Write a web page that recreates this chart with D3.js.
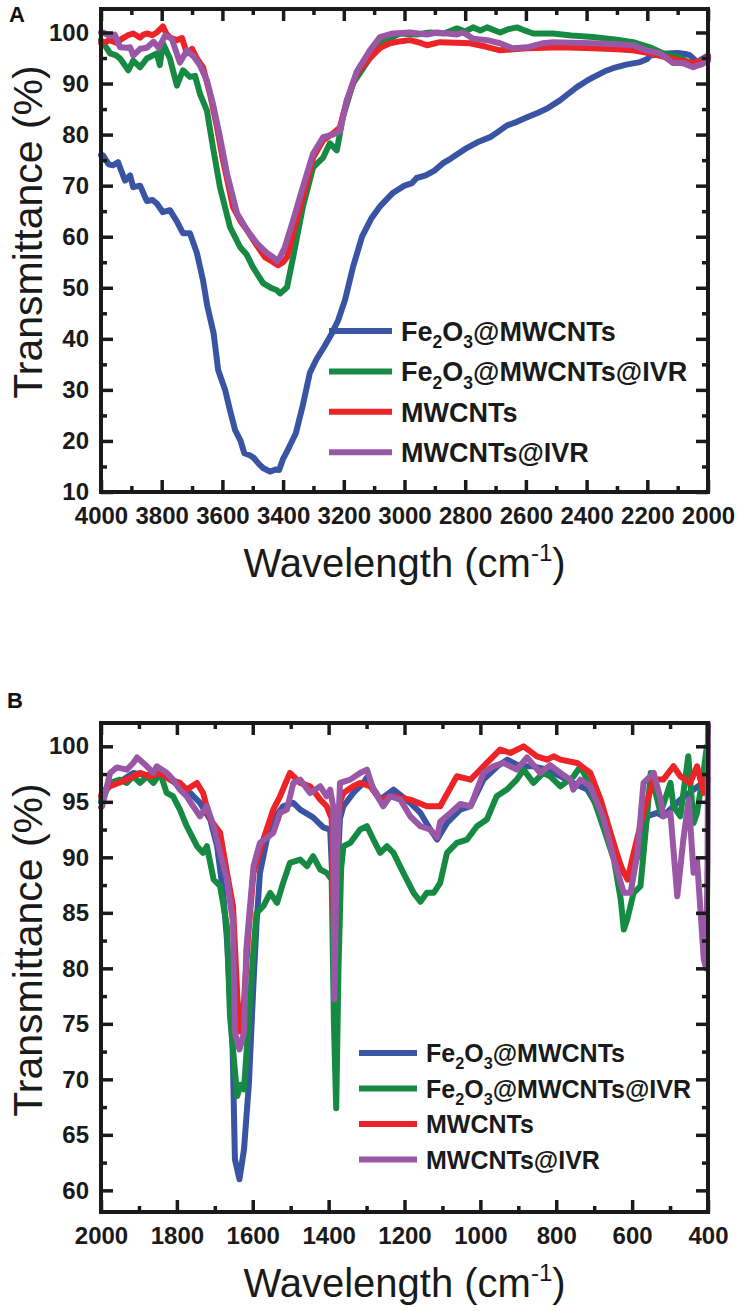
<!DOCTYPE html>
<html><head><meta charset="utf-8">
<script src="https://cdn.jsdelivr.net/npm/d3@7"></script>
<style>
html,body{margin:0;padding:0;background:#fff;}
svg{display:block;font-family:"Liberation Sans",Arial,Helvetica,sans-serif;}
</style></head>
<body><svg id="chart" width="739" height="1311"></svg>
<script>
// ---------- data ----------
const seriesNames = ["Fe2O3@MWCNTs", "Fe2O3@MWCNTs@IVR", "MWCNTs", "MWCNTs@IVR"];
const seriesColors = ["#3a54a4", "#168a43", "#ec2327", "#9a57a6"];

// Panel A  [wavenumber cm-1, transmittance %]
const aFe2O3 = [[4000,76],[3993,75.9],[3975,74.2],[3960,74],[3944,74.6],[3921,71],[3904,72],[3894,69.7],[3871,70],[3849,67],[3830,67.2],[3816,66.5],[3796,64.8],[3773,65.2],[3750,63],[3730,60.7],[3707,60.7],[3684,56.8],[3664,51.5],[3650,46.5],[3629,41.1],[3614,33.9],[3591,30],[3575,26],[3558,22.1],[3540,20],[3528,17.6],[3510,17.2],[3497,16.7],[3480,15.5],[3466,14.7],[3443,14],[3425,14.4],[3413,14.3],[3400,16.5],[3390,17.6],[3358,21.5],[3335,27],[3312,33.3],[3290,36],[3265,38.4],[3240,41],[3219,43.6],[3196,47.6],[3170,54],[3140,60],[3110,63.5],[3080,66],[3040,68.5],[3000,70],[2975,70.5],[2960,71.5],[2930,72],[2900,73],[2873,74.4],[2850,75.2],[2800,77.2],[2760,78.5],[2718,79.5],[2700,80.2],[2662,81.8],[2630,82.5],[2596,83.4],[2560,84.3],[2530,85.1],[2488,86.7],[2460,88],[2432,89.3],[2400,90.5],[2379,91.2],[2340,92.4],[2313,93],[2270,93.7],[2224,94.2],[2200,94.8],[2191,95.5],[2160,95.7],[2135,95.9],[2100,96],[2075,95.8],[2059,95.5],[2036,94.2],[2020,94.8],[2000,95.5]];
const aFe2O3IVR = [[4000,98.5],[3993,98],[3970,95.9],[3950,95.5],[3937,94.9],[3910,92.6],[3894,94.5],[3871,93.2],[3849,94.9],[3816,95.9],[3806,93.6],[3796,97.9],[3773,94.9],[3750,89.6],[3730,92.6],[3707,91.3],[3690,91.5],[3674,88],[3651,84.7],[3631,77.5],[3608,69.7],[3575,61.9],[3542,58],[3520,56.5],[3499,54],[3466,50.9],[3437,49.9],[3420,49.5],[3410,48.9],[3387,50.1],[3367,56],[3335,65.8],[3301,73.6],[3268,75.5],[3246,78.3],[3223,76.9],[3203,83.4],[3170,90],[3114,95],[3081,97.9],[3015,99.8],[2960,99.6],[2916,100],[2870,99.8],[2827,100.8],[2800,100.2],[2774,101],[2750,100.4],[2728,101],[2685,100],[2660,100.6],[2629,101],[2600,100.3],[2576,99.8],[2511,99.8],[2450,99.4],[2379,99.1],[2300,98.6],[2247,98.1],[2191,97.1],[2147,95.9],[2092,95.1],[2049,93.6],[2020,94.2],[2000,94.9]];
const aMWCNTs = [[4000,98],[3993,98],[3970,98.5],[3950,98],[3930,98.8],[3910,99.5],[3894,99.8],[3871,99],[3860,99.6],[3849,99.8],[3830,99.5],[3816,100],[3796,101.2],[3785,99.8],[3773,99],[3750,98.5],[3733,98.9],[3717,95.9],[3700,96.8],[3684,94.9],[3664,93.2],[3641,88],[3618,81.5],[3598,75],[3580,70],[3565,65.8],[3540,63],[3519,61.3],[3500,59.5],[3476,57.4],[3460,56],[3443,55.4],[3417,54.4],[3400,55],[3387,56],[3367,60.7],[3335,67.7],[3301,75.5],[3268,78.9],[3236,80.2],[3213,81.4],[3190,86.7],[3157,92],[3114,95],[3080,97],[3048,97.9],[3010,98.3],[2982,98.5],[2950,98],[2926,97.5],[2883,98.1],[2830,98],[2784,97.9],[2730,97.2],[2685,96.5],[2640,96.7],[2596,96.9],[2540,97],[2488,97.1],[2430,97],[2379,96.9],[2300,96.7],[2247,96.5],[2191,95.9],[2135,95.1],[2092,94.5],[2049,94],[2020,94.5],[2000,95.1]];
const aMWCNTsIVR = [[4000,100],[3993,100],[3970,99.3],[3955,99.6],[3937,97.1],[3915,97],[3904,97.1],[3894,95.5],[3871,96.8],[3849,97],[3827,98.2],[3810,97],[3789,99.4],[3767,98.8],[3740,94.1],[3717,96.5],[3695,95.3],[3674,93.6],[3651,90.6],[3631,86],[3608,79.5],[3585,72.4],[3552,64.6],[3519,61.3],[3486,58.7],[3453,56.8],[3433,56],[3420,55.2],[3410,56],[3394,58],[3367,63.2],[3335,69.7],[3301,76.3],[3268,79.5],[3236,80],[3213,80.7],[3190,86.7],[3157,92.4],[3114,96.5],[3081,99.1],[3038,99.8],[2982,100],[2926,99.6],[2893,100],[2827,99.6],[2807,100],[2774,98.8],[2728,98.5],[2685,97.9],[2643,96.9],[2596,97.1],[2543,97.9],[2511,98.1],[2450,98],[2379,97.9],[2300,97.7],[2247,97.5],[2202,96.5],[2158,95.9],[2115,94],[2082,94],[2049,93.2],[2020,93.8],[2000,94.5]];

// Panel B
const bFe2O3 = [[2000,95],[1997,95.5],[1976,96.7],[1950,96.8],[1915,97.6],[1879,97.4],[1844,97.6],[1818,97],[1792,96.4],[1765,95.8],[1739,94.9],[1712,93.4],[1694,91],[1678,86.8],[1668,82.6],[1653,72.7],[1647,62.8],[1635,61],[1623,63.7],[1610,69.7],[1598,78.7],[1590,84],[1581,88.6],[1563,91.6],[1546,93.4],[1520,94.6],[1493,94.9],[1475,94.3],[1441,93.6],[1414,92.7],[1396,92.5],[1390,88],[1384,80],[1378,88],[1370,93.5],[1361,94.6],[1335,95.8],[1308,96.7],[1299,97.2],[1282,96.2],[1264,95.2],[1229,96.1],[1185,94.9],[1158,94],[1132,92.5],[1114,91.6],[1088,93.1],[1053,94.3],[1026,94.6],[992,97],[955,98.2],[929,98.8],[895,98.2],[860,98.2],[824,97.9],[789,97.3],[755,96.7],[718,96.1],[692,94.6],[665,92.2],[639,90.1],[623,88.6],[604,88],[586,90.1],[560,93.7],[534,94],[518,93.7],[491,94.6],[473,95.2],[438,96.1],[403,97],[400,97]];
const bFe2O3IVR = [[2000,95],[1997,95.2],[1976,96.7],[1950,97],[1932,96.7],[1915,97.3],[1897,96.7],[1879,97.3],[1862,96.7],[1844,97.6],[1827,95.8],[1810,95.5],[1792,94.3],[1774,92.8],[1747,91],[1731,90.4],[1721,91],[1703,88],[1686,87.4],[1668,83.8],[1660,75.7],[1641,68.5],[1632,69.5],[1623,69.1],[1610,75.7],[1598,81.7],[1590,85],[1572,85.6],[1554,86.8],[1536,85.9],[1520,87.7],[1502,89.5],[1475,89.8],[1457,89.2],[1441,90.1],[1422,88.9],[1405,88.6],[1392,88],[1386,75],[1380,67.4],[1374,80],[1367,89],[1361,91],[1343,91.3],[1317,92.5],[1299,92.8],[1282,91.6],[1264,90.4],[1246,91],[1229,90.4],[1203,88.6],[1176,86.8],[1158,86],[1141,86.8],[1123,86.8],[1106,87.7],[1088,90.4],[1062,91.3],[1035,91.6],[1009,92.8],[983,93.4],[957,95.5],[930,96.1],[904,97],[886,97.9],[860,96.7],[834,97.6],[816,97.3],[789,96.4],[754,97.3],[736,98.2],[719,97],[701,95.2],[674,92.5],[648,89.8],[630,86.2],[622,83.5],[613,84.4],[596,86.8],[578,87.4],[560,94],[551,97.6],[525,94],[499,96.7],[491,94.6],[473,93.7],[452,99.1],[438,93.1],[429,94],[411,97.9],[403,100],[400,100]];
const bMWCNTs = [[2000,95.5],[1997,95.9],[1976,96.4],[1932,97],[1897,97.6],[1871,97.3],[1844,97.6],[1818,97],[1792,96.7],[1774,96.1],[1747,96.7],[1731,95.8],[1712,93.4],[1686,92.2],[1668,88.6],[1652,85.6],[1640,77],[1633,74.3],[1625,76],[1612,83],[1598,88.6],[1572,91.6],[1546,94.3],[1528,95.5],[1502,97.6],[1475,96.7],[1449,96.4],[1422,95.2],[1405,94.6],[1392,93.5],[1385,82],[1378,91],[1370,95],[1361,95.8],[1335,96.4],[1317,96.7],[1291,96.4],[1264,95.2],[1229,95.5],[1185,95.2],[1141,94.6],[1106,94.6],[1062,97.3],[1026,97],[983,98.5],[948,99.7],[921,99.4],[886,100],[851,99.1],[824,98.8],[807,99.1],[789,98.8],[745,98.5],[710,97.6],[683,95.2],[657,92.2],[630,89.2],[612,88],[596,90.4],[570,94],[543,97],[518,97],[491,98.2],[473,97.3],[447,96.7],[429,98.2],[411,95.8],[403,97],[400,97]];
const bMWCNTsIVR = [[2000,94.5],[1997,94.6],[1976,97.6],[1958,98.1],[1932,97.9],[1915,98.5],[1905,99],[1879,98.2],[1862,97.6],[1853,98.2],[1826,97.6],[1810,97],[1792,96.1],[1774,95.5],[1757,94.6],[1739,93.7],[1721,94.6],[1703,92.8],[1686,90.4],[1668,88],[1652,84.1],[1647,74.2],[1635,72.7],[1623,74.2],[1617,81.7],[1598,89.2],[1581,91.3],[1546,92.2],[1528,94],[1510,94.3],[1493,96.7],[1475,97],[1449,95.8],[1422,96.4],[1405,95.5],[1396,96.1],[1388,94.6],[1385,77.2],[1378,90],[1370,96.7],[1343,97],[1317,97.6],[1299,97.9],[1282,96.1],[1256,94.6],[1238,95.5],[1211,95.2],[1185,93.7],[1158,92.8],[1132,92.5],[1114,91.8],[1106,93.2],[1079,94],[1053,94.8],[1026,94.6],[992,97.6],[966,98.2],[939,98.5],[904,97.9],[877,99],[842,97.6],[816,98.3],[789,97.6],[763,97],[755,96.1],[736,97],[710,96.4],[692,94.9],[675,93.4],[648,89.8],[622,86.8],[604,86.8],[586,90.4],[570,96.7],[543,97.6],[525,95.2],[518,93.7],[499,94],[481,86.5],[465,91.6],[451,95.2],[438,88.6],[429,89.8],[411,80.8],[405,80],[401,90],[400,102]];

// ticks
const aXTicks = [4000,3800,3600,3400,3200,3000,2800,2600,2400,2200,2000];
const aXMinor = [3900,3700,3500,3300,3100,2900,2700,2500,2300,2100];
const aYTicks = [10,20,30,40,50,60,70,80,90,100];
const aYMinor = [15,25,35,45,55,65,75,85,95];
const bXTicks = [2000,1800,1600,1400,1200,1000,800,600,400];
const bXMinor = [1900,1700,1500,1300,1100,900,700,500];
const bYTicks = [60,65,70,75,80,85,90,95,100];
const bYMinor = [62.5,67.5,72.5,77.5,82.5,87.5,92.5,97.5];

// ---------- drawing ----------
const svg = d3.select("#chart");
const L = 101, R = 708;
const ink = "#1a1a1a";

function drawPanel(cfg){
  const g = svg.append("g");
  const x = d3.scaleLinear().domain(cfg.xDomain).range([L, R]);
  const y = d3.scaleLinear().domain(cfg.yDomain).range([cfg.bottom, cfg.top]);

  const line = d3.line().x(d => x(d[0])).y(d => y(d[1]));
  cfg.series.forEach((s, i) => {
    g.append("path").datum(s)
      .attr("d", line)
      .attr("fill", "none")
      .attr("stroke", seriesColors[i])
      .attr("stroke-width", 6)
      .attr("stroke-linejoin", "round")
      .attr("stroke-linecap", "round");
  });

  const fontTick = "bold 24px 'Liberation Sans', Arial, sans-serif";
  function axis(gen, scale, vals, size, pos, labels, pad){
    const a = gen(scale).tickValues(vals).tickSize(size).tickPadding(pad || 0)
      .tickFormat(labels ? d3.format("d") : "");
    const ag = g.append("g").attr("transform", pos).call(a);
    ag.select(".domain").remove();
    ag.selectAll("line").attr("stroke", ink).attr("stroke-width", 3.5);
    ag.selectAll("text").style("font", fontTick).attr("fill", ink);
    return ag;
  }
  // major/minor ticks on all four sides, pointing inward
  axis(d3.axisBottom, x, cfg.xTicks, -12, `translate(0,${cfg.bottom})`, true, 15);
  axis(d3.axisBottom, x, cfg.xMinor, -6, `translate(0,${cfg.bottom})`, false);
  axis(d3.axisTop, x, cfg.xTicks, -12, `translate(0,${cfg.top})`, false);
  axis(d3.axisTop, x, cfg.xMinor, -6, `translate(0,${cfg.top})`, false);
  axis(d3.axisLeft, y, cfg.yTicks, -12, `translate(${L},0)`, true, 12);
  axis(d3.axisLeft, y, cfg.yMinor, -6, `translate(${L},0)`, false);
  axis(d3.axisRight, y, cfg.yTicks, -12, `translate(${R},0)`, false);
  axis(d3.axisRight, y, cfg.yMinor, -6, `translate(${R},0)`, false);

  g.append("rect").attr("x", L).attr("y", cfg.top).attr("width", R - L).attr("height", cfg.bottom - cfg.top)
    .attr("fill", "none").attr("stroke", ink).attr("stroke-width", 4);

  // x title
  const xt = g.append("text").attr("x", (L + R) / 2).attr("y", cfg.bottom + 85)
    .attr("text-anchor", "middle").style("font-size", "40px").attr("fill", ink);
  xt.append("tspan").text("Wavelength (cm");
  xt.append("tspan").attr("dy", -16).style("font-size", "24px").text("-1");
  xt.append("tspan").attr("dy", 16).text(")");

  // y title
  g.append("text").attr("transform", `translate(42,${cfg.yTitleY}) rotate(-90)`)
    .attr("text-anchor", "middle").style("font-size", "41px").attr("fill", ink)
    .text("Transmittance (%)");

  // panel letter
  g.append("text").attr("x", cfg.letterX).attr("y", cfg.letterY)
    .style("font", "bold 22px 'Liberation Sans', Arial, sans-serif").attr("fill", "#111").text(cfg.letter);

  // legend
  const lg = g.append("g");
  seriesNames.forEach((name, i) => {
    const yy = cfg.leg.y0 + i * cfg.leg.dy;
    lg.append("line").attr("x1", cfg.leg.x1).attr("x2", cfg.leg.x2).attr("y1", yy).attr("y2", yy)
      .attr("stroke", seriesColors[i]).attr("stroke-width", 6);
    const t = lg.append("text").attr("x", cfg.leg.tx).attr("y", yy + cfg.leg.fs * 0.36)
      .style("font", `bold ${cfg.leg.fs}px 'Liberation Sans', Arial, sans-serif`).attr("fill", ink);
    const m = name.match(/^Fe2O3(.*)$/);
    if(m){
      const sub = cfg.leg.fs * 0.65, sh = cfg.leg.fs * 0.28;
      t.append("tspan").text("Fe");
      t.append("tspan").attr("dy", sh).style("font-size", sub + "px").text("2");
      t.append("tspan").attr("dy", -sh).text("O");
      t.append("tspan").attr("dy", sh).style("font-size", sub + "px").text("3");
      t.append("tspan").attr("dy", -sh).text(m[1]);
    } else {
      t.text(name);
    }
  });
}

drawPanel({
  letter: "A", letterX: 9, letterY: 22,
  xDomain: [4000, 2000], yDomain: [10, 104.6], top: 9, bottom: 492,
  xTicks: aXTicks, xMinor: aXMinor, yTicks: aYTicks, yMinor: aYMinor,
  series: [aFe2O3, aFe2O3IVR, aMWCNTs, aMWCNTsIVR],
  yTitleY: 232,
  leg: {x1: 329, x2: 392, tx: 401, y0: 331, dy: 40.4, fs: 27}
});

drawPanel({
  letter: "B", letterX: 7, letterY: 708,
  xDomain: [2000, 400], yDomain: [58.05, 102.1], top: 723, bottom: 1212,
  xTicks: bXTicks, xMinor: bXMinor, yTicks: bYTicks, yMinor: bYMinor,
  series: [bFe2O3, bFe2O3IVR, bMWCNTs, bMWCNTsIVR],
  yTitleY: 950,
  leg: {x1: 359, x2: 417, tx: 426, y0: 1053, dy: 35.5, fs: 25}
});
</script>
</body></html>
